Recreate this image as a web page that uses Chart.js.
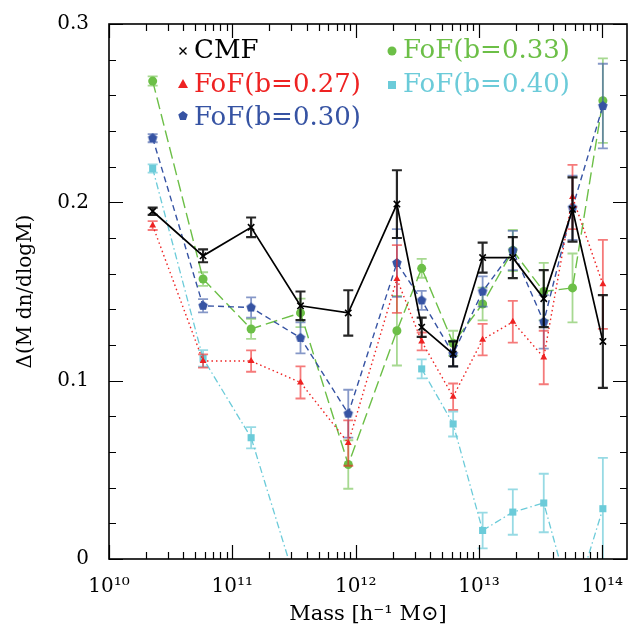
<!DOCTYPE html>
<html>
<head>
<meta charset="utf-8">
<script src="https://cdn.jsdelivr.net/npm/chart.js@4.4.1/dist/chart.umd.min.js"></script>
<style>
  html, body { margin: 0; padding: 0; background: #fff; }
</style>
</head>
<body>
<canvas id="massChart" width="639" height="629"></canvas>
<script>
// halo mass bins (h^-1 Msun)
const massBins = [2.26e10, 5.79e10, 1.42e11, 3.57e11, 8.71e11, 2.16e12, 3.43e12, 6.17e12, 1.07e13, 1.88e13, 3.35e13, 5.73e13, 1.01e14];
const xTicks = [1e10, 1e11, 1e12, 1e13, 1e14];
const yTicks = [0, 0.1, 0.2, 0.3];

const cmf = [0.195, 0.170, 0.186, 0.142, 0.138, 0.199, 0.130, 0.115, 0.169, 0.169, 0.146, 0.196, 0.122];
const cmfErr = [0.002, 0.0036, 0.0055, 0.008, 0.0127, 0.019, 0.0054, 0.007, 0.0084, 0.0115, 0.016, 0.018, 0.026];

const fof27 = [0.187, 0.111, 0.111, 0.099, 0.065, 0.157, 0.122, 0.091, 0.123, 0.133, 0.113, 0.203, 0.154];
const fof27Err = [0.0025, 0.0037, 0.006, 0.009, 0.0127, 0.019, 0.005, 0.0074, 0.0088, 0.0117, 0.015, 0.018, 0.025];

const fof30 = [0.236, 0.142, 0.141, 0.124, 0.0815, 0.166, 0.145, 0.115, 0.150, 0.173, 0.133, 0.197, 0.254];
const fof30Err = [0.0023, 0.0037, 0.0057, 0.0087, 0.0134, 0.019, 0.0053, 0.007, 0.0085, 0.011, 0.015, 0.018, 0.0237];

const fof33 = [0.268, 0.157, 0.129, 0.138, 0.053, 0.128, 0.163, 0.121, 0.143, 0.173, 0.150, 0.152, 0.257];
const fof33Err = [0.0026, 0.0038, 0.0056, 0.008, 0.0136, 0.0195, 0.0053, 0.007, 0.0092, 0.0116, 0.016, 0.0193, 0.0237];

const fof40 = [0.219, 0.1125, 0.068, -0.022, null, null, 0.1066, 0.0757, 0.016, 0.0263, 0.0314, -0.027, 0.0282];
const fof40Err = [0.0023, 0.0046, 0.006, 0.009, null, null, 0.0053, 0.007, 0.01, 0.0127, 0.0164, 0.02, 0.0285];

const SERIF = '"DejaVu Serif", "Liberation Serif", serif';

function makePentagon(color, r) {
    const c = document.createElement('canvas');
    const s = Math.ceil(2 * r + 2);
    c.width = s; c.height = s;
    const g = c.getContext('2d');
    g.beginPath();
    for (let i = 0; i < 5; i++) {
        const a = -Math.PI / 2 + i * 2 * Math.PI / 5;
        g.lineTo(s / 2 + r * Math.cos(a), s / 2 + r * Math.sin(a));
    }
    g.closePath();
    g.fillStyle = color;
    g.fill();
    return c;
}

function pts(vals) {
    return massBins.map((m, i) => ({ x: m, y: vals[i] }));
}

const BLUE = '#3653a3';
const bluePent = makePentagon(BLUE, 5);

// error bars drawn just before each dataset, clipped to the plot box
const errorBars = {
    id: 'errorBars',
    beforeDatasetDraw(chart, args) {
        const ds = chart.data.datasets[args.index];
        if (!ds.errors) return;
        const { ctx, chartArea: a } = chart;
        const xs = chart.scales.x, ys = chart.scales.y;
        ctx.save();
        ctx.beginPath();
        ctx.rect(a.left, a.top, a.right - a.left, a.bottom - a.top);
        ctx.clip();
        ctx.strokeStyle = ds.errorColor;
        ctx.lineWidth = ds.errorWidth;
        ctx.setLineDash([]);
        const cap = 5;
        ds.data.forEach((p, i) => {
            const e = ds.errors[i];
            if (p.y === null || e === null) return;
            const px = xs.getPixelForValue(p.x);
            const top = ys.getPixelForValue(p.y + e);
            const bot = ys.getPixelForValue(p.y - e);
            ctx.beginPath();
            ctx.moveTo(px, top); ctx.lineTo(px, bot);
            ctx.moveTo(px - cap, top); ctx.lineTo(px + cap, top);
            ctx.moveTo(px - cap, bot); ctx.lineTo(px + cap, bot);
            ctx.stroke();
        });
        ctx.restore();
    }
};

// frame, inward tick marks and the in-plot legend
const frameAndLegend = {
    id: 'frameAndLegend',
    afterDraw(chart) {
        const { ctx, chartArea: a } = chart;
        const xs = chart.scales.x, ys = chart.scales.y;
        ctx.save();
        ctx.strokeStyle = '#000';
        ctx.lineWidth = 1.6;
        ctx.setLineDash([]);
        ctx.strokeRect(a.left, a.top, a.right - a.left, a.bottom - a.top);

        ctx.lineWidth = 1.2;
        ctx.beginPath();
        for (let d = 10; d <= 14; d++) {
            for (let m = 1; m <= 9; m++) {
                const v = m * Math.pow(10, d);
                if (v > xs.max) continue;
                const px = Math.round(xs.getPixelForValue(v)) + 0.5;
                const len = m === 1 ? 14 : 7;
                ctx.moveTo(px, a.bottom); ctx.lineTo(px, a.bottom - len);
                ctx.moveTo(px, a.top); ctx.lineTo(px, a.top + len);
            }
        }
        for (let k = 0; k <= 15; k++) {
            const v = k * 0.02;
            const py = Math.round(ys.getPixelForValue(v)) + 0.5;
            const len = k % 5 === 0 ? 14 : 7;
            ctx.moveTo(a.left, py); ctx.lineTo(a.left + len, py);
            ctx.moveTo(a.right, py); ctx.lineTo(a.right - len, py);
        }
        ctx.stroke();

        // legend
        ctx.font = '26px ' + SERIF;
        ctx.textBaseline = 'middle';
        ctx.textAlign = 'left';
        const items = [
            { x: 183, y: 51, text: 'CMF', color: '#000', mark: 'cross' },
            { x: 183, y: 85, text: 'FoF(b=0.27)', color: '#ee2222', mark: 'tri' },
            { x: 183, y: 118, text: 'FoF(b=0.30)', color: BLUE, mark: 'pent' },
            { x: 392, y: 51, text: 'FoF(b=0.33)', color: '#6cbf47', mark: 'circle' },
            { x: 392, y: 85, text: 'FoF(b=0.40)', color: '#6bcbd9', mark: 'square' }
        ];
        items.forEach(it => {
            ctx.fillStyle = it.color;
            ctx.strokeStyle = it.color;
            ctx.lineWidth = 1.4;
            ctx.beginPath();
            if (it.mark === 'cross') {
                ctx.moveTo(it.x - 3.5, it.y - 3.5); ctx.lineTo(it.x + 3.5, it.y + 3.5);
                ctx.moveTo(it.x + 3.5, it.y - 3.5); ctx.lineTo(it.x - 3.5, it.y + 3.5);
                ctx.stroke();
            } else if (it.mark === 'tri') {
                ctx.moveTo(it.x, it.y - 6); ctx.lineTo(it.x + 5, it.y + 3); ctx.lineTo(it.x - 5, it.y + 3);
                ctx.closePath(); ctx.fill();
            } else if (it.mark === 'pent') {
                ctx.drawImage(bluePent, it.x - bluePent.width / 2, it.y - 2 - bluePent.height / 2);
            } else if (it.mark === 'circle') {
                ctx.arc(it.x, it.y, 4.5, 0, Math.PI * 2); ctx.fill();
            } else {
                ctx.fillRect(it.x - 4, it.y - 4, 8, 8);
            }
            ctx.fillText(it.text, it.x + 11, it.y);
        });
        ctx.restore();
    }
};

function series(label, vals, errs, color, dash, pointStyle, radius, errColor, width) {
    return {
        label: label,
        data: pts(vals),
        errors: errs,
        errorColor: errColor,
        errorWidth: width > 1.5 ? 2.2 : 1.8,
        borderColor: color,
        backgroundColor: color,
        pointBackgroundColor: color,
        pointBorderColor: color,
        borderWidth: width,
        borderDash: dash,
        pointStyle: pointStyle,
        pointRadius: radius,
        pointBorderWidth: pointStyle === 'crossRot' ? 1.6 : 0,
        tension: 0,
        fill: false,
        spanGaps: false
    };
}

const ctx = document.getElementById('massChart').getContext('2d');
new Chart(ctx, {
    type: 'line',
    data: {
        datasets: [
            series('CMF', cmf, cmfErr, '#000000', [], 'crossRot', 4.5, 'rgba(0,0,0,0.85)', 1.7),
            series('FoF(b=0.27)', fof27, fof27Err, '#ee2222', [1.5, 3], 'triangle', 4, 'rgba(238,34,34,0.6)', 1.4),
            series('FoF(b=0.30)', fof30, fof30Err, BLUE, [6, 4], bluePent, 5, 'rgba(54,83,163,0.6)', 1.4),
            series('FoF(b=0.33)', fof33, fof33Err, '#6cbf47', [12, 5], 'circle', 4.5, 'rgba(108,191,71,0.6)', 1.4),
            series('FoF(b=0.40)', fof40, fof40Err, '#6bcbd9', [7, 3, 1.5, 3], 'rect', 5, 'rgba(107,203,217,0.7)', 1.3)
        ]
    },
    options: {
        responsive: false,
        animation: false,
        layout: { padding: { left: 0, right: 12, top: 15, bottom: 0 } },
        plugins: {
            legend: { display: false },
            tooltip: { enabled: false }
        },
        scales: {
            x: {
                type: 'logarithmic',
                min: 1e10,
                max: Math.pow(10, 14.2),
                grid: { display: false },
                border: { display: false },
                afterBuildTicks: scale => { scale.ticks = xTicks.map(v => ({ value: v })); },
                afterFit: scale => { scale.height = 70; },
                ticks: {
                    autoSkip: false,
                    maxRotation: 0,
                    padding: 8,
                    color: '#000',
                    font: { family: SERIF, size: 20 },
                    callback: v => {
                        const sup = { '0': '⁰', '1': '¹', '2': '²', '3': '³', '4': '⁴' };
                        const e = String(Math.round(Math.log10(v)));
                        return '10' + e.split('').map(c => sup[c]).join('');
                    }
                },
                title: {
                    display: true,
                    text: 'Mass [h⁻¹ M⊙]',
                    color: '#000',
                    font: { family: SERIF, size: 21 },
                    padding: { top: 0, bottom: 2 }
                }
            },
            y: {
                min: 0,
                max: 0.3,
                grid: { display: false },
                border: { display: false },
                afterBuildTicks: scale => { scale.ticks = yTicks.map(v => ({ value: v })); },
                afterFit: scale => { scale.width = 109; },
                ticks: {
                    padding: 12,
                    color: '#000',
                    font: { family: SERIF, size: 20 },
                    callback: v => v === 0 ? '0' : v.toFixed(1)
                },
                title: {
                    display: true,
                    text: 'Δ(M dn/dlogM)',
                    color: '#000',
                    font: { family: SERIF, size: 20 },
                    padding: { top: 14, bottom: 0 }
                }
            }
        }
    },
    plugins: [errorBars, frameAndLegend]
});
</script>
</body>
</html>
